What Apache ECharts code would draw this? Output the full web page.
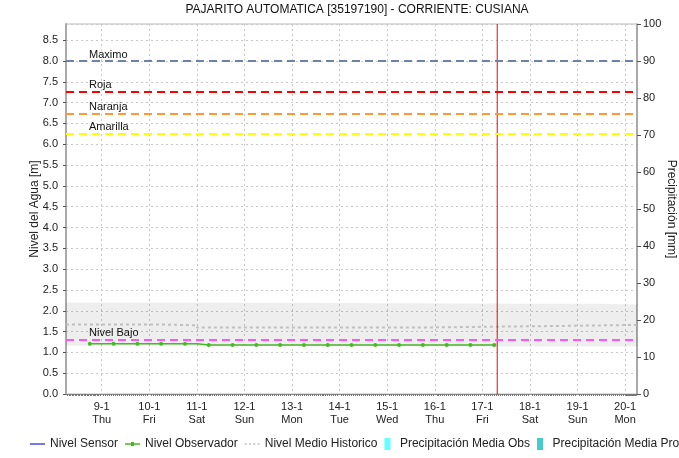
<!doctype html>
<html>
	<head>
		<meta charset="UTF-8">
		<title>Pajarito Automatica</title>
		<script src="https://cdn.jsdelivr.net/npm/echarts@6/dist/echarts.min.js"></script>
		<style>
			html,body{margin:0;padding:0;background:#fff;}
			#main{width:679px;height:458px;}
		</style>
	</head>
	<body>
		<div id="main"></div>
		<script type="text/javascript">
			// rango del eje de tiempo y hora actual
			var startTime = '2025-01-08 06:00';
			var endTime = '2025-01-20 06:00';
			var nowTime = '2025-01-17 07:30';
			var weekDays = ['Sun', 'Mon', 'Tue', 'Wed', 'Thu', 'Fri', 'Sat'];

			// nivel observador (lecturas 6am / 6pm)
			var obsTimes = ['2025-01-08 18:00', '2025-01-09 06:00', '2025-01-09 18:00', '2025-01-10 06:00', '2025-01-10 18:00',
				'2025-01-11 06:00', '2025-01-11 18:00', '2025-01-12 06:00', '2025-01-12 18:00', '2025-01-13 06:00',
				'2025-01-13 18:00', '2025-01-14 06:00', '2025-01-14 18:00', '2025-01-15 06:00', '2025-01-15 18:00',
				'2025-01-16 06:00', '2025-01-16 18:00', '2025-01-17 06:00'];
			var obsValues = [1.21, 1.21, 1.21, 1.21, 1.21, 1.18, 1.18, 1.18, 1.18, 1.18, 1.18, 1.18, 1.18, 1.18, 1.18, 1.18, 1.18, 1.18];

			// nivel medio historico
			var histTimes = ['2025-01-08 06:00', '2025-01-10 06:00', '2025-01-11 00:00', '2025-01-16 00:00', '2025-01-19 00:00', '2025-01-20 06:00'];
			var histValues = [1.67, 1.65, 1.60, 1.64, 1.66, 1.66];

			// banda historica (min / max)
			var bandTimes = ['2025-01-08 06:00', '2025-01-11 12:00', '2025-01-18 00:00', '2025-01-19 12:00', '2025-01-20 06:00'];
			var bandLow = [1.16, 1.16, 1.14, 1.14, 1.14];
			var bandHigh = [2.20, 2.17, 2.17, 2.15, 2.15];

			// umbrales
			var umbralNames = ['Maximo', 'Roja', 'Naranja', 'Amarilla', 'Nivel Bajo'];
			var umbralValues = [8.0, 7.27, 6.74, 6.25, 1.30];

			// precipitacion (sin datos)
			var precObs = [];
			var precPro = [];

			var umbralColors = {'Maximo': '#7080a8', 'Roja': '#ff0000', 'Naranja': '#ff9933', 'Amarilla': '#ffff00', 'Nivel Bajo': '#ff55ff'};
			var FONT = 'Liberation Sans, Arial, sans-serif';
			var DAY = 86400000;

			function t(s) {
				var p = s.split(/[- :]/);
				return new Date(+p[0], p[1] - 1, +p[2], +p[3], +p[4]).getTime();
			}
			function pairs(times, vals) {
				var out = [];
				for (var i = 0; i < times.length; i++) {
					out.push([t(times[i]), vals[i]]);
				}
				return out;
			}

			var bandRange = [];
			for (var i = 0; i < bandTimes.length; i++) {
				bandRange.push([t(bandTimes[i]), +(bandHigh[i] - bandLow[i]).toFixed(2)]);
			}

			var umbralLines = [];
			for (var j = 0; j < umbralNames.length; j++) {
				umbralLines.push({
					name: umbralNames[j],
					yAxis: umbralValues[j],
					lineStyle: {color: umbralColors[umbralNames[j]], type: [8, 5], width: 2},
					label: {formatter: umbralNames[j]}
				});
			}

			var myChart = echarts.init(document.getElementById('main'));
			var option = {
				animation: false,
				backgroundColor: '#ffffff',
				textStyle: {fontFamily: FONT},
				title: {
					text: 'PAJARITO AUTOMATICA [35197190] - CORRIENTE: CUSIANA',
					left: 352,
					textAlign: 'center',
					top: 0,
					padding: [4, 5],
					textStyle: {fontSize: 12, fontWeight: 'normal', color: '#111', fontFamily: FONT}
				},
				legend: {
					left: 30,
					top: 438,
					width: 720,
					padding: 0,
					itemGap: 7,
					itemWidth: 15,
					itemHeight: 12,
					textStyle: {fontSize: 12, color: '#222', fontFamily: FONT},
					data: [
						{name: 'Nivel Sensor', icon: 'path://M0 0H15V1.6H0Z'},
						{name: 'Nivel Observador', icon: 'path://M0 1.3H15V2.7H0ZM6 0H9V4H6Z'},
						{name: 'Nivel Medio Historico', icon: 'path://M0 0h2v1.6h-2zM4.3 0h2v1.6h-2zM8.6 0h2v1.6h-2zM13 0h2v1.6h-2z'},
						{name: 'Precipitación Media Obs', icon: 'path://M0 0H6V12H0Z'},
						{name: 'Precipitación Media Pro', icon: 'path://M0 0H6V12H0Z'}
					]
				},
				grid: {
					left: 66,
					right: 42,
					top: 24,
					bottom: 64,
					containLabel: false,
					outerBoundsMode: 'none',
					show: true,
					borderColor: '#bbbbbb',
					borderWidth: 1
				},
				xAxis: {
					type: 'time',
					min: t(startTime),
					max: t(endTime),
					splitNumber: 12,
					minInterval: DAY,
					maxInterval: DAY,
					axisLine: {show: true, lineStyle: {color: '#888', width: 1}},
					axisTick: {show: false},
					minorTick: {show: true, splitNumber: 24, length: 2, lineStyle: {color: '#777'}},
					axisLabel: {
						color: '#222',
						fontSize: 11,
						lineHeight: 13,
						margin: 6,
						hideOverlap: false,
						showMinLabel: false,
						showMaxLabel: false,
						formatter: function (value) {
							var d = new Date(value);
							if (d.getHours() !== 0 || d.getMinutes() !== 0) return '';
							return d.getDate() + '-' + (d.getMonth() + 1) + '\n' + weekDays[d.getDay()];
						}
					},
					splitLine: {show: true, lineStyle: {type: [2, 3], color: '#c8c8c8'}}
				},
				yAxis: [{
					type: 'value',
					position: 'left',
					min: 0,
					max: 8 / 0.9,
					interval: 0.5,
					name: 'Nivel del Agua [m]',
					nameLocation: 'middle',
					nameGap: 25,
					nameMoveOverlap: false,
					nameTextStyle: {fontSize: 12, color: '#222', fontFamily: FONT},
					axisLine: {show: true, lineStyle: {color: '#aaaaaa', width: 2}},
					axisTick: {show: true, length: 3, lineStyle: {color: '#555'}},
					axisLabel: {
						color: '#222',
						fontSize: 11,
						margin: 8,
						showMaxLabel: false,
						formatter: function (v) {
							if (Math.abs(v * 2 - Math.round(v * 2)) > 1e-6) return '';
							return v.toFixed(1);
						}
					},
					splitLine: {show: true, lineStyle: {type: [2, 3], color: '#c8c8c8'}}
				}, {
					type: 'value',
					position: 'right',
					min: 0,
					max: 100,
					interval: 10,
					name: 'Precipitación [mm]',
					nameLocation: 'middle',
					nameRotate: -90,
					nameGap: 28,
					nameMoveOverlap: false,
					nameTextStyle: {fontSize: 12, color: '#222', fontFamily: FONT},
					axisLine: {show: true, lineStyle: {color: '#999999', width: 1.5}},
					axisTick: {show: true, length: 4, lineStyle: {color: '#555'}},
					axisLabel: {color: '#222', fontSize: 11, margin: 6},
					splitLine: {show: false}
				}],
				series: [
					{
						name: 'bandBase',
						type: 'line',
						stack: 'band',
						step: 'end',
						symbol: 'none',
						silent: true,
						lineStyle: {opacity: 0},
						data: pairs(bandTimes, bandLow)
					},
					{
						name: 'bandRange',
						type: 'line',
						stack: 'band',
						step: 'end',
						symbol: 'none',
						silent: true,
						lineStyle: {opacity: 0},
						areaStyle: {color: 'rgba(0,0,0,0.065)', opacity: 1},
						data: bandRange
					},
					{
						name: 'Nivel Sensor',
						type: 'line',
						symbol: 'none',
						color: '#5555ee',
						lineStyle: {width: 1.5},
						data: []
					},
					{
						name: 'Nivel Medio Historico',
						type: 'line',
						step: 'end',
						symbol: 'none',
						color: '#c0c0c0',
						lineStyle: {width: 2, type: [3, 3]},
						data: pairs(histTimes, histValues),
						markLine: {
							silent: true,
							symbol: ['none', 'none'],
							label: {show: true, position: 'insideStartTop', distance: [23, 1], color: '#111', fontSize: 11, fontFamily: FONT},
							data: umbralLines
						}
					},
					{
						name: 'Nivel Observador',
						type: 'line',
						step: 'middle',
						symbol: 'circle',
						symbolSize: 4,
						color: '#44bb22',
						lineStyle: {width: 1.5},
						data: pairs(obsTimes, obsValues)
					},
					// linea roja de la hora actual
					{
						name: 'ahora',
						type: 'line',
						color: '#ff0000',
						symbol: 'none',
						silent: true,
						lineStyle: {color: '#ff0000', width: 1},
						data: [[t(nowTime), 0], [t(nowTime), 8 / 0.9]]
					},
					// precipitacion: series sin datos, solo para la leyenda
					{
						name: 'Precipitación Media Obs',
						type: 'line',
						yAxisIndex: 1,
						symbol: 'none',
						color: '#66ffff',
						data: precObs
					},
					{
						name: 'Precipitación Media Pro',
						type: 'line',
						yAxisIndex: 1,
						symbol: 'none',
						color: '#44cccc',
						data: precPro
					}
				]
			};
			myChart.setOption(option);
		</script>
	</body>
</html>
